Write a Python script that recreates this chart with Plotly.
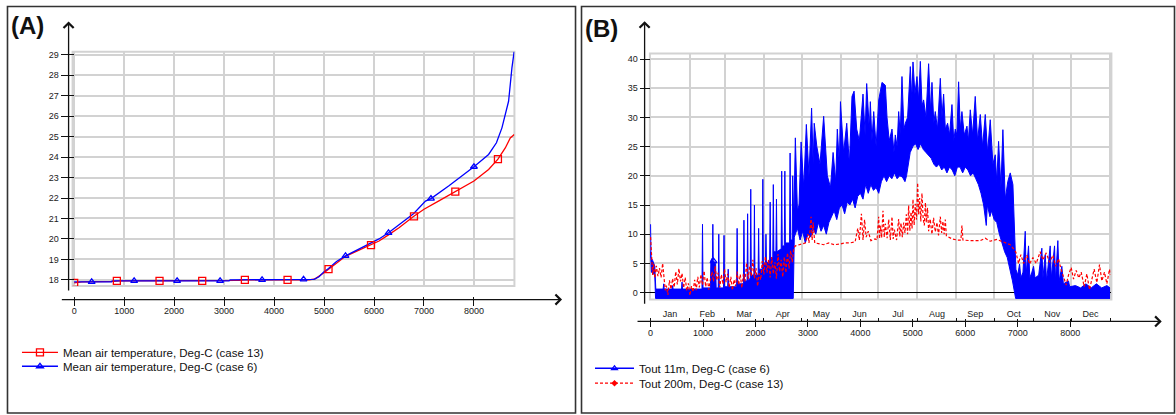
import plotly.graph_objects as go

W, H = 1176, 415
def px(x): return x / W
def py(y): return 1 - y / H

# ---------------- Panel A data (hour of year, deg C) ----------------
a_case13_h = [0, 150, 800, 900, 3300, 3400, 4700, 4820, 5000, 5090, 5250, 5430, 5700, 5940, 6100,
              6290, 6500, 6790, 7000, 7290, 7627, 8000, 8293, 8480, 8627, 8727, 8807]
a_case13_v = [17.85, 17.9, 17.93, 17.95, 17.97, 18.0, 18.0, 18.05, 18.35, 18.52, 18.85, 19.15, 19.45, 19.7, 19.9,
              20.2, 20.55, 21.1, 21.45, 21.85, 22.31, 22.83, 23.4, 23.9, 24.45, 24.94, 25.1]
a_case6_h = [0, 750, 760, 3100, 3120, 4800, 4900, 5000, 5090, 5250, 5430, 5700, 5940, 6100, 6290,
             6500, 6790, 7030, 7140, 7500, 8000, 8293, 8450, 8560, 8693, 8760, 8805]
a_case6_v = [17.9, 17.9, 17.95, 17.95, 18.0, 18.02, 18.15, 18.4, 18.55, 18.9, 19.17, 19.5, 19.78, 20.0, 20.3,
             20.7, 21.23, 21.85, 21.97, 22.6, 23.53, 24.13, 24.7, 25.43, 26.73, 28.36, 29.17]
a_case13_mk_h = [0, 854, 1708, 2562, 3416, 4270, 5090, 5940, 6800, 7627, 8480]
a_case13_mk_v = [17.85, 17.95, 17.95, 17.95, 18.0, 18.0, 18.52, 19.7, 21.1, 22.31, 23.9]
a_case6_mk_h = [350, 1200, 2060, 2920, 3760, 4590, 5430, 6290, 7140, 8000]
a_case6_mk_v = [17.9, 17.95, 17.95, 17.95, 18.0, 18.02, 19.17, 20.3, 21.97, 23.53]
a_xticks = [0, 1000, 2000, 3000, 4000, 5000, 6000, 7000, 8000]
a_yticks = [18, 19, 20, 21, 22, 23, 24, 25, 26, 27, 28, 29]
a_name13 = "Mean air temperature, Deg-C (case 13)"
a_name6 = "Mean air temperature, Deg-C (case 6)"

# ---------------- Panel B data ----------------
months = ["Jan", "Feb", "Mar", "Apr", "May", "Jun", "Jul", "Aug", "Sep", "Oct", "Nov", "Dec"]
month_edges = [0, 744, 1416, 2160, 2880, 3624, 4344, 5088, 5832, 6552, 7296, 8016, 8760]
month_mid = [372, 1080, 1788, 2520, 3252, 3984, 4716, 5460, 6192, 6924, 7656, 8388]
b_xticks = [0, 1000, 2000, 3000, 4000, 5000, 6000, 7000, 8000]
b_yticks = [0, 5, 10, 15, 20, 25, 30, 35, 40]

# Tout 11m (case 6): lower and upper envelope of the hourly band
b11_low_h = [0, 15, 80, 95, 2720, 2740, 2800, 2850, 2900, 2950, 3000, 3050, 3100, 3150, 3200, 3250, 3300,
             3350, 3400, 3450, 3500, 3550, 3600, 3650, 3700, 3750, 3800, 3850, 3900, 3950, 4000, 4050,
             4100, 4150, 4200, 4250, 4300, 4350, 4400, 4450, 4500, 4550, 4600, 4650, 4700, 4750, 4800,
             4850, 4880, 4950, 5000, 5050, 5100, 5150, 5200, 5250, 5300, 5350, 5400, 5450, 5500, 5550,
             5600, 5650, 5700, 5750, 5800, 5850, 5900, 5950, 6000, 6050, 6100, 6150, 6200, 6250, 6300,
             6350, 6400, 6420, 6470, 6500, 6550, 6600, 6650, 6700, 6750, 6800, 6850, 6900, 6960, 8760]
b11_low_v = [7, 3.5, 3, -1, -1, 9.5, 11, 9, 10.5, 8.5, 10, 9.5, 11, 10, 12, 10.5, 11.5,
             10, 12, 13, 14, 12.5, 14.5, 15, 13.5, 15.5, 15, 16, 14.5, 16.5, 17, 16,
             18.5, 17, 18.5, 17.5, 18, 17, 19, 20, 19, 20, 19.5, 20.5, 19.5, 20, 19.8,
             19, 20, 24, 25, 25.5, 24.5, 25.5, 24.5, 24, 23.5, 23, 22, 21.5, 22, 21,
             21.5, 20.5, 21.5, 21, 20, 21.5, 21.5, 20.5, 21.5, 21, 20, 20.5, 19.5, 18.5, 17,
             15, 11.5, 15, 13, 14, 12.5, 12, 10, 8.3, 7, 6, 4, 2, -1, -1]
b11_up_h = [0, 8, 40, 80, 100, 240, 250, 260, 410, 420, 430, 590, 600, 610, 980, 990, 1000, 1140, 1150,
            1180, 1187, 1195, 1240, 1250, 1290, 1300, 1310, 1390, 1400, 1410, 1470, 1480, 1490, 1640,
            1650, 1660, 1770, 1780, 1790, 1840, 1850, 1860, 1900, 1910, 1920, 1970, 1980, 1990, 2050,
            2060, 2070, 2130, 2140, 2150, 2190, 2200, 2210, 2270, 2280, 2290, 2330, 2340, 2350, 2390,
            2400, 2410, 2490, 2500, 2510, 2550, 2560, 2570, 2650, 2660, 2670, 2700, 2710,
            2730, 2760, 2800, 2830, 2870, 2920, 2970, 3020, 3070, 3100, 3120, 3170, 3230, 3300, 3370,
            3430, 3480, 3530, 3560, 3600, 3620, 3680, 3740, 3790, 3840, 3880, 3930, 3980, 4050, 4090,
            4120, 4170, 4190, 4220, 4254, 4300, 4350, 4412, 4476, 4508, 4550, 4603, 4640, 4666, 4700,
            4730, 4760, 4793, 4830, 4857, 4900, 4952, 4980, 5003, 5040, 5079, 5110, 5143, 5175, 5206,
            5250, 5301, 5340, 5365, 5400, 5428, 5470, 5524, 5555, 5587, 5620, 5663, 5700, 5746, 5780,
            5809, 5840, 5873, 5905, 5936, 5980, 6032, 6060, 6095, 6140, 6190, 6235, 6286, 6330, 6381,
            6425, 6476, 6527, 6571, 6600, 6635, 6680, 6717, 6762, 6810, 6857, 6908, 6935,
            6965, 7000, 7035, 7060, 7100, 7143, 7160, 7206, 7230, 7270, 7302, 7330, 7400, 7460, 7480,
            7524, 7550, 7619, 7640, 7702, 7720, 7765, 7790, 7841, 7870, 7968, 7990, 8100, 8200, 8300,
            8400, 8500, 8600, 8700, 8760]
b11_up_v = [11.7, 6, 5.5, 4.5, 0.6, 0.6, 1.5, 0.6, 0.6, 1.2, 0.6, 0.6, 1.8, 0.6, 0.6, 11.7, 0.8, 0.8, 5.5,
            6, 11.7, 5.5, 5, 0.8, 0.8, 10, 0.8, 0.8, 9.8, 1, 1, 4, 1, 1,
            11, 1.5, 1.5, 12.4, 2, 2, 13.5, 2, 2.5, 17.7, 3, 3, 15, 3, 3,
            11, 4, 4, 19.4, 5, 5, 10, 5, 5.5, 15.5, 6, 6, 18.5, 7, 7,
            16, 7, 7.5, 20.8, 8, 8, 20.8, 8.5, 8.5, 23.9, 9, 9, 20,
            12, 26.5, 14, 15, 25.8, 18, 28.8, 20, 31.6, 22, 29, 25, 22, 30.2, 20,
            18, 24, 19, 28, 22, 32.7, 24, 29, 22, 33.6, 34.5, 28, 26, 34, 27,
            35.8, 28, 32.7, 26, 31, 25, 33, 36, 35.5, 30, 26, 28, 24, 27, 25,
            31, 27, 37, 28, 29, 30, 38.7, 33, 39.5, 34, 37, 33, 39.6, 32, 33,
            30, 39.2, 31, 36, 29, 31, 28, 36.7, 30, 34, 28, 29, 27, 32.2, 26,
            28, 27, 36.1, 28, 31, 27, 28.5, 26, 31.3, 27, 33.6, 26, 30.5, 25, 30.5,
            24, 29.6, 22, 23.6, 19, 25.9, 18, 27.9, 16, 19, 20.5, 18.5, 10,
            4, 3, 4.9, 2.5, 3.5, 10.5, 3, 8, 2.5, 3.5, 4.5, 2.5, 3, 7.6, 2.5,
            6.5, 2, 8, 2.5, 8, 2, 8.9, 2, 4.5, 1.5, 2, 1, 1.2, 0.8, 1.5,
            0.8, 1.5, 0.8, 1.2, 0.8]
b11_mk_h = [1200]
b11_mk_v = [5.4]

# Tout 200m (case 13)
b200_h = [0, 10, 20, 40, 60, 80, 110, 140, 170, 200, 230, 260, 280, 300, 330, 360, 390, 420, 450, 480,
          510, 540, 570, 600, 630, 660, 690, 720, 750, 780, 810, 840, 870, 900, 930, 960, 990, 1020,
          1050, 1080, 1110, 1140, 1170, 1200, 1230, 1260, 1290, 1320, 1350, 1380, 1410, 1440, 1470,
          1500, 1530, 1560, 1590, 1620, 1650, 1680, 1710, 1740, 1770, 1800, 1830, 1860, 1890, 1920,
          1950, 1980, 2010, 2040, 2070, 2100, 2130, 2160, 2190, 2220, 2250, 2280, 2310, 2340, 2370,
          2400, 2430, 2460, 2490, 2520, 2550, 2580, 2610, 2640, 2670, 2700, 2730,
          2760, 2850, 2950, 3000, 3020, 3060, 3080, 3100, 3130, 3200, 3300, 3400, 3500, 3600, 3700,
          3800, 3900, 3950, 3980, 4020, 4050, 4080, 4110, 4150, 4200, 4280, 4317, 4349, 4365, 4380,
          4405, 4431, 4455, 4476, 4510, 4540, 4571, 4590, 4603, 4625, 4647, 4690, 4730, 4752, 4774,
          4800, 4825, 4850, 4876, 4900, 4920, 4943, 4965, 4985, 5003, 5025, 5047, 5070, 5092, 5110,
          5130, 5152, 5174, 5196, 5219, 5240, 5257, 5280, 5301, 5330, 5365, 5395, 5428, 5460, 5490,
          5524, 5550, 5574, 5597, 5619, 5640, 5663, 5746, 5841, 5917, 5936,
          5955, 6095, 6286, 6381, 6476, 6603, 6730, 6857, 6921, 6965,
          7016, 7060, 7111, 7175, 7225, 7289, 7352, 7429, 7479, 7543, 7607, 7670, 7721, 7778, 7822,
          7873, 7924, 7968, 8019, 8064, 8114, 8165, 8210, 8267, 8318, 8368, 8413, 8457, 8508, 8559,
          8603, 8654, 8699, 8750, 8760]
b200_v = [9.5, 7.5, 6.5, 3.0, 5.0, 2.5, 4.6, 2.8, 4.2, 2.6, 5.0, 1.8, 0.4, 1.2, -0.4, 2.1, 0.6, 2.4, 0.9, 3.6,
          1.4, 4.1, 1.9, 3.3, 0.8, 2.6, 0.3, 1.6, -0.5, 1.1, 0.1, 2.2, 0.4, 2.7, 0.9, 3.1, 1.3, 3.7,
          1.0, 2.6, 0.5, 2.2, 3.6, 1.9, 4.5, 2.1, 3.4, 0.9, 3.1, 1.4, 4.0, 1.8, 3.2,
          0.9, 2.7, 0.4, 2.2, 1.1, 3.6, 1.3, 3.1, 0.8, 3.2, 1.9, 5.1, 2.3, 4.6, 2.8,
          5.6, 2.4, 4.2, 1.1, 3.3, 2.2, 5.4, 3.1, 6.2, 3.4, 5.7, 2.6, 6.1, 3.2, 5.2,
          2.4, 6.6, 3.6, 5.6, 2.7, 6.1, 3.4, 6.8, 4.1, 7.2, 5.2, 7.6,
          8.0, 8.2, 8.5, 10.0, 8.5, 13.0, 9.0, 12.0, 8.5, 8.4, 8.2, 8.5, 8.2, 8.3, 8.5,
          8.5, 8.7, 11.0, 9.0, 13.5, 9.0, 12.5, 9.5, 10.5, 8.9, 9.2, 9.0, 13.0, 9.2, 11.5,
          9.4, 14.0, 9.5, 11.8, 9.3, 12.5, 9.0, 11.4, 13.0, 9.2, 10.8, 9.0, 12.6, 9.6, 11.9,
          9.5, 12.0, 10.2, 13.4, 10.0, 14.9, 10.6, 13.8, 11.0, 16.0, 11.6, 15.2, 12.5, 18.8, 13.4,
          16.2, 12.2, 17.0, 12.8, 11.5, 15.4, 12.0, 14.5, 10.5, 12.6, 10.0, 12.8, 10.4, 12.0, 9.8,
          13.0, 10.2, 12.2, 10.0, 12.5, 9.7, 9.6, 9.2, 9.0, 9.0, 11.5,
          9.0, 8.9, 8.9, 9.3, 8.8, 9.1, 8.6, 8.2, 7.5, 6.9,
          5.0, 6.5, 5.0, 6.4, 4.9, 6.0, 5.0, 7.0, 5.6, 6.8, 5.2, 6.4, 4.5, 5.8, 4.1,
          2.5, 1.3, 3.0, 4.3, 2.3, 3.8, 2.5, 3.5, 1.0, 3.2, 0.5, 2.5, 4.0, 1.7, 4.8,
          2.0, 3.5, 1.5, 4.0, 3.0]
b_name11 = "Tout 11m, Deg-C (case 6)"
b_name200 = "Tout 200m, Deg-C (case 13)"

# ---------------- styles ----------------
FONT = "Liberation Sans, Arial, sans-serif"
GRID = "#d2d2d2"
BLUE = "#0000ff"
RED = "#ff0000"
TICKC = "#111111"
LBL = "#1a1a1a"

fig = go.Figure()

# Panel A
fig.add_trace(go.Scatter(x=a_case13_h, y=a_case13_v, mode="lines", line=dict(color=RED, width=1.3),
                         xaxis="x", yaxis="y", showlegend=False, hoverinfo="skip"))
fig.add_trace(go.Scatter(x=a_case6_h, y=a_case6_v, mode="lines", line=dict(color=BLUE, width=1.3),
                         xaxis="x", yaxis="y", showlegend=False, hoverinfo="skip"))
fig.add_trace(go.Scatter(x=a_case13_mk_h, y=a_case13_mk_v, mode="markers",
                         marker=dict(symbol="square-open", size=7, color=RED, line=dict(width=1.3)),
                         xaxis="x", yaxis="y", showlegend=False, hoverinfo="skip"))
fig.add_trace(go.Scatter(x=a_case6_mk_h, y=a_case6_mk_v, mode="markers",
                         marker=dict(symbol="triangle-up-open", size=6, color=BLUE, line=dict(width=1.3)),
                         xaxis="x", yaxis="y", showlegend=False, hoverinfo="skip"))
fig.add_trace(go.Scatter(x=[None], y=[None], mode="lines+markers", name=a_name13,
                         line=dict(color=RED, width=1.3),
                         marker=dict(symbol="square-open", size=7, color=RED, line=dict(width=1.3)),
                         xaxis="x", yaxis="y", legend="legend", hoverinfo="skip"))
fig.add_trace(go.Scatter(x=[None], y=[None], mode="lines+markers", name=a_name6,
                         line=dict(color=BLUE, width=1.3),
                         marker=dict(symbol="triangle-up-open", size=6, color=BLUE, line=dict(width=1.3)),
                         xaxis="x", yaxis="y", legend="legend2", hoverinfo="skip"))

# Panel B
fig.add_trace(go.Scatter(x=b11_low_h, y=b11_low_v, mode="lines", line=dict(color=BLUE, width=1),
                         xaxis="x2", yaxis="y2", showlegend=False, hoverinfo="skip"))
fig.add_trace(go.Scatter(x=b11_up_h, y=b11_up_v, mode="lines", line=dict(color=BLUE, width=1),
                         fill="tonexty", fillcolor=BLUE,
                         xaxis="x2", yaxis="y2", showlegend=False, hoverinfo="skip"))
fig.add_trace(go.Scatter(x=b11_mk_h, y=b11_mk_v, mode="markers",
                         marker=dict(symbol="triangle-up-open", size=6, color=BLUE, line=dict(width=1.3)),
                         xaxis="x2", yaxis="y2", showlegend=False, hoverinfo="skip"))
fig.add_trace(go.Scatter(x=b200_h, y=b200_v, mode="lines", line=dict(color=RED, width=1.2, dash="3px,2px"),
                         xaxis="x2", yaxis="y2", showlegend=False, hoverinfo="skip"))
fig.add_trace(go.Scatter(x=[None], y=[None], mode="lines+markers", name=b_name11,
                         line=dict(color=BLUE, width=1.3),
                         marker=dict(symbol="triangle-up-open", size=5, color=BLUE, line=dict(width=1.3)),
                         xaxis="x2", yaxis="y2", legend="legend3", hoverinfo="skip"))
fig.add_trace(go.Scatter(x=[None], y=[None], mode="lines+markers", name=b_name200,
                         line=dict(color=RED, width=1.2, dash="3px,2px"),
                         marker=dict(symbol="diamond", size=5, color=RED),
                         xaxis="x2", yaxis="y2", legend="legend4", hoverinfo="skip"))
# helper traces so the overlay axes (number row and month-name row) are drawn
fig.add_trace(go.Scatter(x=[None], y=[None], xaxis="x3", yaxis="y2", showlegend=False, hoverinfo="skip"))
fig.add_trace(go.Scatter(x=[None], y=[None], xaxis="x4", yaxis="y2", showlegend=False, hoverinfo="skip"))

a_xrange = [-32, 8810]
b_xrange = [-13, 8786]
tickfont = dict(family=FONT, size=9, color=LBL)

def legend_at(x, y, iw):
    return dict(x=px(x), y=py(y), xanchor="left", yanchor="middle", bgcolor="rgba(0,0,0,0)",
                borderwidth=0, itemwidth=iw, font=dict(family=FONT, size=11.5, color="#111111"),
                itemclick=False, itemdoubleclick=False, tracegroupgap=0)

fig.update_layout(
    width=W, height=H, margin=dict(l=0, r=0, t=0, b=0),
    paper_bgcolor="white", plot_bgcolor="white",
    font=dict(family=FONT, size=9, color=LBL),
    xaxis=dict(domain=[px(70.7), px(513.3)], range=a_xrange, anchor="free", position=py(295),
               side="bottom", ticks="outside", ticklen=9, tickwidth=1.3, tickcolor=TICKC,
               tickmode="array", tickvals=a_xticks, tickfont=tickfont, ticklabelstandoff=-2,
               showgrid=True, gridcolor=GRID, gridwidth=1.5, showline=False, zeroline=False),
    yaxis=dict(domain=[py(285.3), py(50)], range=[17.703, 29.151], anchor="free", position=px(71.7),
               side="left", ticks="outside", ticklen=13, tickwidth=1.3, tickcolor=TICKC,
               tickmode="array", tickvals=a_yticks, tickfont=tickfont,
               showgrid=True, gridcolor=GRID, gridwidth=1.5, showline=False, zeroline=False),
    xaxis2=dict(domain=[px(649), px(1111.3)], range=b_xrange, anchor="free", position=py(321),
                side="top", ticks="outside", ticklen=3.5, tickwidth=1.3, tickcolor=TICKC,
                tickmode="array", tickvals=month_edges, showticklabels=False,
                showgrid=True, gridcolor=GRID, gridwidth=1.5, showline=False, zeroline=False),
    xaxis3=dict(overlaying="x2", range=b_xrange, anchor="free", position=py(318),
                side="bottom", ticks="outside", ticklen=7.5, tickwidth=1.3, tickcolor=TICKC,
                tickmode="array", tickvals=b_xticks, tickfont=tickfont, ticklabelstandoff=-2,
                showgrid=False, showline=False, zeroline=False),
    xaxis4=dict(overlaying="x2", range=b_xrange, anchor="free", position=py(321),
                side="top", ticks="", tickmode="array", tickvals=month_mid, ticktext=months,
                tickfont=tickfont, ticklabelstandoff=3, showgrid=False, showline=False, zeroline=False),
    yaxis2=dict(domain=[py(299), py(51.7)], range=[-1.193, 40.954], anchor="free", position=px(648.7),
                side="left", ticks="outside", ticklen=10, tickwidth=1.3, tickcolor=TICKC,
                tickmode="array", tickvals=b_yticks, tickfont=tickfont,
                showgrid=True, gridcolor=GRID, gridwidth=1.5, showline=False,
                zeroline=True, zerolinecolor="#000000", zerolinewidth=1),
    legend=legend_at(15, 352, 36),
    legend2=legend_at(15, 366, 36),
    legend3=legend_at(589, 368, 39),
    legend4=legend_at(589, 383, 39),
)

shapes = [
    # panel frames
    dict(type="rect", xref="paper", yref="paper", x0=px(5.5), x1=px(574.5), y0=py(413), y1=py(4.5),
         line=dict(color="#333333", width=1.6)),
    dict(type="rect", xref="paper", yref="paper", x0=px(580.5), x1=px(1174.5), y0=py(413), y1=py(4.5),
         line=dict(color="#333333", width=1.6)),
    # plot-area frames
    dict(type="rect", xref="x domain", yref="y domain", x0=0, x1=1, y0=0, y1=1,
         line=dict(color=GRID, width=2), layer="below"),
    dict(type="rect", xref="x2 domain", yref="y2 domain", x0=0, x1=1, y0=0, y1=1,
         line=dict(color=GRID, width=2), layer="below"),
]

def arrow(x_head, y_head, x_tail, y_tail):
    return dict(x=px(x_head), y=py(y_head), xref="paper", yref="paper", text="",
                showarrow=True, arrowhead=4, arrowsize=1.5, arrowwidth=1.3, arrowcolor="#111111",
                ax=x_tail - x_head, ay=y_tail - y_head, axref="pixel", ayref="pixel")

annotations = [
    arrow(66.7, 19.5, 66.7, 290),
    arrow(561, 299, 59.3, 299),
    arrow(643.7, 19.3, 643.7, 303.3),
    arrow(1161.7, 321, 636, 321),
    dict(x=px(7), y=py(23.5), xref="paper", yref="paper", text="<b>(A)</b>", showarrow=False,
         xanchor="left", yanchor="middle", font=dict(family=FONT, size=24, color="#111111")),
    dict(x=px(582), y=py(26.5), xref="paper", yref="paper", text="<b>(B)</b>", showarrow=False,
         xanchor="left", yanchor="middle", font=dict(family=FONT, size=24, color="#111111")),
]
fig.update_layout(shapes=shapes, annotations=annotations)

fig.write_html("out.html", config={"displayModeBar": False},
               post_script="document.body.style.margin='0px';document.body.style.padding='0px';")
